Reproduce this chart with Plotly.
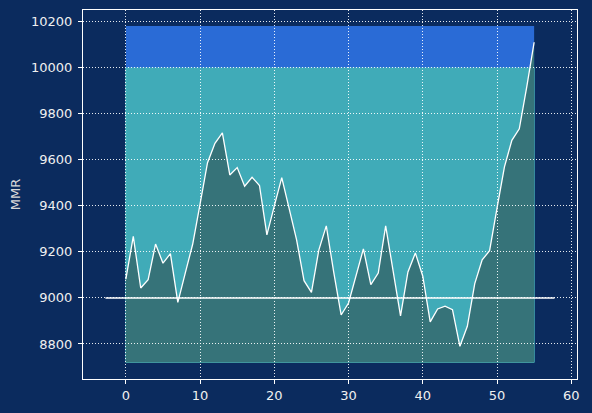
import plotly.graph_objects as go

# ---- data ----
games = list(range(56))
mmr = [9082, 9267, 9043, 9079, 9234, 9151, 9192, 8981, 9108, 9233,
       9408, 9587, 9671, 9717, 9534, 9566, 9485, 9524, 9488, 9274,
       9400, 9522, 9388, 9252, 9075, 9024, 9209, 9313, 9112, 8926,
       8978, 9094, 9213, 9058, 9108, 9313, 9123, 8922, 9113, 9195,
       9094, 8896, 8952, 8964, 8949, 8790, 8877, 9062, 9165, 9205,
       9390, 9569, 9684, 9734, 9915, 10110]
band_low = 8720
band_mid = 10000
band_high = 10180
ref_mmr = 9000
ref_x = [-2.75, 57.75]
x_ticks = [0, 10, 20, 30, 40, 50, 60]
y_ticks = [8800, 9000, 9200, 9400, 9600, 9800, 10000, 10200]

BG = "#0b2b5e"
TEAL = "#40abb8"
BLUE = "#2a6bd6"
FILL = "#367379"

fig = go.Figure()

# area below the line, as a path in data coordinates
path = f"M {games[0]},{band_low} " + " ".join(f"L {x},{y}" for x, y in zip(games, mmr)) + f" L {games[-1]},{band_low} Z"

shapes = [
    dict(type="rect", xref="x", yref="y", x0=games[0], x1=games[-1], y0=band_low, y1=band_mid,
         fillcolor=TEAL, line=dict(color="#4fc0c8", width=1), layer="below"),
    dict(type="rect", xref="x", yref="y", x0=games[0], x1=games[-1], y0=band_mid, y1=band_high,
         fillcolor=BLUE, line=dict(width=0), layer="below"),
    dict(type="path", xref="x", yref="y", path=path, fillcolor=FILL, line=dict(width=0), layer="below"),
]

fig.add_trace(go.Scatter(x=ref_x, y=[ref_mmr, ref_mmr], mode="lines",
                         line=dict(color="white", width=1.5), hoverinfo="skip", showlegend=False))
fig.add_trace(go.Scatter(x=games, y=mmr, mode="lines",
                         line=dict(color="white", width=1.3), showlegend=False))

axis_common = dict(
    showline=True, linecolor="white", linewidth=1.2, mirror=True,
    ticks="outside", ticklen=4, tickwidth=1, tickcolor="white",
    showgrid=True, gridcolor="rgba(255,255,255,0.9)", griddash="1px,2px", gridwidth=1,
    zeroline=False, tickfont=dict(color="#f0f0f0", size=13, family="DejaVu Sans"),
    automargin=False, tickformat="d",
)

# page body has an 8px default margin, so the figure is sized to fit the window
fig.update_layout(
    width=584, height=405,
    paper_bgcolor=BG, plot_bgcolor=BG,
    margin=dict(l=75, r=15, t=2, b=34, autoexpand=False),
    shapes=shapes,
    xaxis=dict(range=[-5.775, 60.775], tickvals=x_ticks, **axis_common),
    yaxis=dict(range=[8648, 10250], tickvals=y_ticks, ticklabelstandoff=3,
               title=dict(text="MMR", font=dict(color="#d8d8d8", size=13, family="DejaVu Sans"), standoff=10),
               **axis_common),
)

fig.write_html("out.html", post_script="document.body.style.background='%s';" % BG)
